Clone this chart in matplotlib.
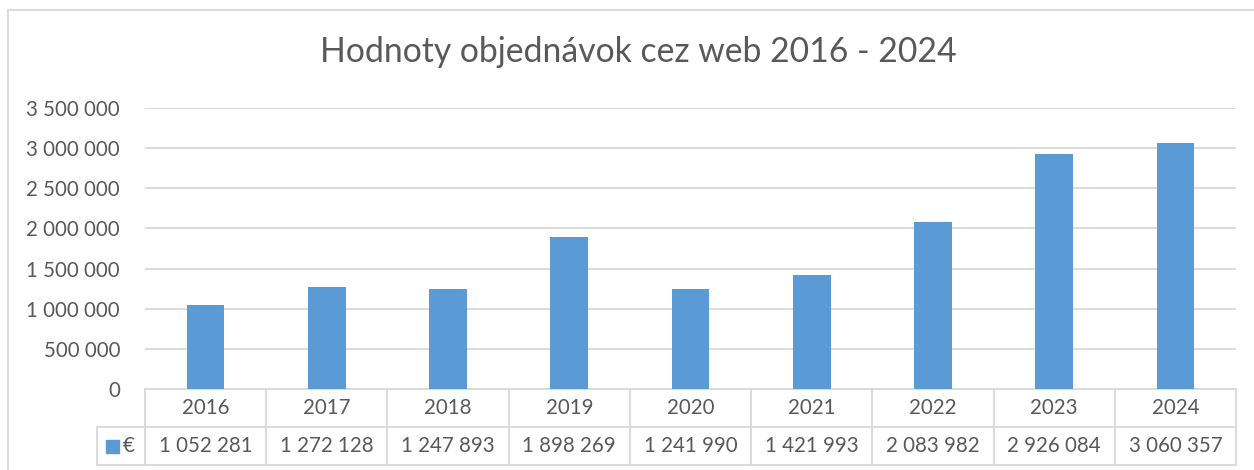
import matplotlib
matplotlib.use("Agg")
import matplotlib.pyplot as plt
from matplotlib.transforms import blended_transform_factory
from matplotlib.lines import Line2D
from matplotlib.patches import Rectangle

years = ["2016", "2017", "2018", "2019", "2020", "2021", "2022", "2023", "2024"]
values = [1052281, 1272128, 1247893, 1898269, 1241990, 1421993, 2083982, 2926084, 3060357]
series_name = "€"
title = "Hodnoty objednávok cez web 2016 - 2024"
yticks = [0, 500000, 1000000, 1500000, 2000000, 2500000, 3000000, 3500000]

plt.rcParams['font.family'] = ['Lato', 'DejaVu Sans']
TXT = "#595959"
GRID = "#D9D9D9"
BAR = "#5B9BD5"
FS = 14.8

W, H = 1254, 470
fig = plt.figure(figsize=(W/100, H/100), dpi=100)
x0, x1, ytop, ybot = 145, 1236, 108, 389
ax = fig.add_axes([x0/W, 1-ybot/H, (x1-x0)/W, (ybot-ytop)/H])

def fmt(v):
    return f"{v:,}".replace(",", " ")

xs = list(range(len(years)))
ax.bar(xs, values, width=0.31, color=BAR, zorder=3)
ax.set_xlim(-0.5, len(years)-0.5)
ax.set_ylim(0, 3500000)
ax.set_yticks(yticks)
ax.set_yticklabels([fmt(v) for v in yticks], fontsize=FS, color=TXT)
ax.tick_params(axis='y', length=0, pad=18)
ax.tick_params(axis='x', length=0, labelbottom=False)
ax.grid(axis='y', color=GRID, linewidth=1.3, zorder=0)
for s in ["top", "right", "left"]:
    ax.spines[s].set_visible(False)
ax.spines["bottom"].set_color(GRID)
ax.spines["bottom"].set_linewidth(1.3)

# data table
ph = ybot - ytop
rh = 38 / ph
tr = blended_transform_factory(ax.transData, ax.transAxes)
lw = 1.3
for i in range(len(years) + 1):
    ax.add_line(Line2D([i-0.5, i-0.5], [0, -2*rh], transform=tr, color=GRID, lw=lw, clip_on=False))
ax.add_line(Line2D([-0.5, len(years)-0.5], [-rh, -rh], transform=tr, color=GRID, lw=lw, clip_on=False))
ax.add_line(Line2D([-0.5, len(years)-0.5], [-2*rh, -2*rh], transform=tr, color=GRID, lw=lw, clip_on=False))
for i, (y, v) in enumerate(zip(years, values)):
    ax.text(i, -0.5*rh, y, transform=tr, ha='center', va='center', fontsize=FS, color=TXT)
    ax.text(i, -1.5*rh, fmt(v), transform=tr, ha='center', va='center', fontsize=FS, color=TXT)

# legend cell
lx0 = (97 - x0) / (x1 - x0)
ax.add_line(Line2D([lx0, 0], [-rh, -rh], transform=ax.transAxes, color=GRID, lw=lw, clip_on=False))
ax.add_line(Line2D([lx0, 0], [-2*rh, -2*rh], transform=ax.transAxes, color=GRID, lw=lw, clip_on=False))
ax.add_line(Line2D([lx0, lx0], [-rh, -2*rh], transform=ax.transAxes, color=GRID, lw=lw, clip_on=False))
sq = 13
ax.add_patch(Rectangle(((106 - x0)/(x1-x0), -1.5*rh - (sq/2)/ph), sq/(x1-x0), sq/ph,
                       transform=ax.transAxes, color=BAR, clip_on=False))
ax.text((123 - x0)/(x1-x0), -1.5*rh, series_name, transform=ax.transAxes, ha='left', va='center',
        fontsize=FS, color=TXT)

# chart border (left and top visible)
fig.add_artist(Line2D([8/W, 8/W], [0, 1-10/H], transform=fig.transFigure, color=GRID, lw=1.3))
fig.add_artist(Line2D([8/W, 1], [1-10/H, 1-10/H], transform=fig.transFigure, color=GRID, lw=1.3))

fig.text(638/W, 1-52/H, title, ha='center', va='center', fontsize=24.3, color=TXT)

fig.savefig("out.png", dpi=100)
